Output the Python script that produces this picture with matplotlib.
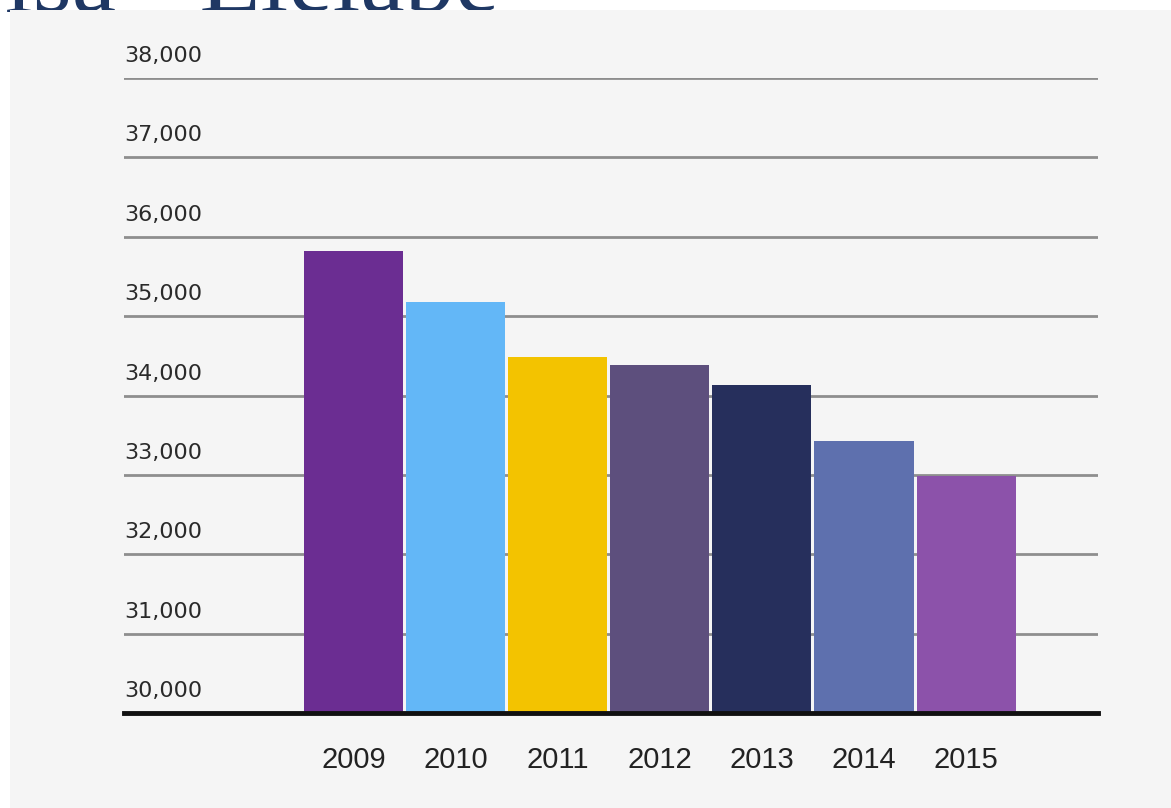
import matplotlib
matplotlib.use("Agg")
import matplotlib.pyplot as plt
from matplotlib.patches import Rectangle

years = ["2009", "2010", "2011", "2012", "2013", "2014", "2015"]
values = [35820, 35180, 34490, 34380, 34130, 33430, 32990]
bar_colors = ["#6b2d92", "#63b7f7", "#f3c300", "#5d4f7d", "#262f5c", "#5e70ae", "#8c52aa"]
y_ticks = [30000, 31000, 32000, 33000, 34000, 35000, 36000, 37000, 38000]
y_tick_labels = ["30,000", "31,000", "32,000", "33,000", "34,000", "35,000", "36,000", "37,000", "38,000"]
title_text = "isa - Elelabe"

W, H = 1171, 808
fig = plt.figure(figsize=(W / 100, H / 100), dpi=100)
fig.patch.set_facecolor("white")

# slide title, partly hidden behind the chart picture
fig.text(5 / W, 1 - 11 / H, title_text, family=["Liberation Serif", "DejaVu Serif"],
         fontsize=72, color="#1f3864", ha="left", va="baseline", zorder=0.5)

# light grey picture panel
fig.add_artist(Rectangle((10 / W, 0), 1 - 10 / W, 1 - 10 / H, transform=fig.transFigure,
                         facecolor="#f5f5f5", edgecolor="none", zorder=1))

left, right = 124 / W, 1098 / W
bottom, top = (H - 713) / H, (H - 78) / H
ax = fig.add_axes([left, bottom, right - left, top - bottom])
ax.set_zorder(2)
ax.patch.set_alpha(0)

x = list(range(len(years)))
ax.bar(x, values, width=0.97, bottom=0, color=bar_colors, zorder=3)
ax.set_ylim(30000, 38000)
ax.set_xlim(-2.248, 7.292)

ax.set_yticks(y_ticks[1:])
ax.yaxis.grid(True, color="#8e8e8e", linewidth=2.0)
ax.set_axisbelow(True)
ax.tick_params(axis="y", left=False, labelleft=False)

for v, lab in zip(y_ticks, y_tick_labels):
    ax.annotate(lab, xy=(0, v), xycoords=ax.get_yaxis_transform(), xytext=(0, 11.5),
                textcoords="offset points", ha="left", va="baseline",
                family=["DejaVu Sans"], fontsize=16, color="#2a2a2a")

ax.set_xticks(x)
ax.set_xticklabels(years, family=["Liberation Sans", "DejaVu Sans"], fontsize=21, color="#222222")
ax.tick_params(axis="x", length=0, pad=24)

for s in ["top", "right", "left"]:
    ax.spines[s].set_visible(False)
ax.spines["bottom"].set_color("#111111")
ax.spines["bottom"].set_linewidth(3.5)
ax.spines["bottom"].set_zorder(4)

fig.savefig("out.png", dpi=100, facecolor=fig.get_facecolor())
